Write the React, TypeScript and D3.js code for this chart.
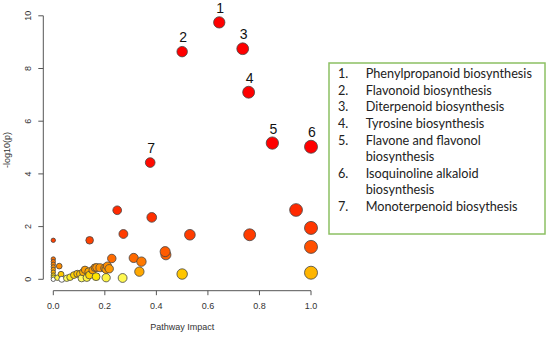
import React from 'react';
import { scaleLinear, scaleSqrt } from 'd3';

// pathway impact (x) and -log10(p) (y)
const impact = [
  0.0, 0.0, 0.0, 0.0, 0.0, 0.0, 0.0, 0.0, 0.0, 0.0,
  0.016, 0.023, 0.03, 0.033, 0.052, 0.065, 0.08, 0.093, 0.104, 0.11,
  0.116, 0.123, 0.13, 0.137, 0.14, 0.153, 0.162, 0.166, 0.168, 0.181,
  0.2, 0.205, 0.205, 0.21, 0.217, 0.227, 0.269, 0.312, 0.334, 0.342,
  0.141, 0.248, 0.272, 0.382, 0.437, 0.434, 0.5, 0.53, 0.762,
  0.942, 1.0, 1.0, 1.0,
  0.376, 0.85, 1.0, 0.758, 0.5, 0.735, 0.644,
];
const logp = [
  1.48, 0.77, 0.67, 0.57, 0.47, 0.37, 0.27, 0.16, 0.08, 0.0,
  0.06, 0.5, 0.19, 0.0, 0.04, 0.08, 0.16, 0.21, 0.2, 0.04,
  0.27, 0.36, 0.06, 0.29, 0.16, 0.35, 0.44, 0.1, 0.45, 0.44,
  0.42, 0.06, 0.38, 0.5, 0.4, 0.79, 0.05, 0.81, 0.29, 0.67,
  1.48, 2.62, 1.72, 2.35, 0.93, 1.05, 0.2, 1.69, 1.69,
  2.63, 1.95, 1.23, 0.25,
  4.43, 5.17, 5.03, 7.1, 8.64, 8.75, 9.75,
];
// numbered pathways: index into the arrays above
const labelIdx = [59, 57, 58, 56, 54, 55, 53];
const labelNum = ['1', '2', '3', '4', '5', '6', '7'];

const xTicks = [0, 0.2, 0.4, 0.6, 0.8, 1.0];
const yTicks = [0, 2, 4, 6, 8, 10];

const legendItems = [
  ['1.', 'Phenylpropanoid biosynthesis'],
  ['2.', 'Flavonoid biosynthesis'],
  ['3.', 'Diterpenoid biosynthesis'],
  ['4.', 'Tyrosine biosynthesis'],
  ['5.', 'Flavone and flavonol'],
  ['', 'biosynthesis'],
  ['6.', 'Isoquinoline alkaloid'],
  ['', 'biosynthesis'],
  ['7.', 'Monoterpenoid biosythesis'],
];

export default function App() {
  const x = scaleLinear().domain([0, 1]).range([53.3, 311]);
  const y = scaleLinear().domain([0, 10]).range([279.3, 15.8]);
  const r = scaleSqrt().domain([0, 1]).range([2.2, 6.5]);
  const color = scaleLinear<string>()
    .domain([0, 0.03, 0.1, 0.3, 0.8, 1.5, 3, 5])
    .range(['#ffffff', '#ffff70', '#ffe600', '#ffa500', '#ff6a00', '#ff4000', '#ff2200', '#ff0000']);

  const axisCol = '#555';
  const font = 'Liberation Sans, Arial, sans-serif';
  const xAxisY = 290.7;
  const yAxisX = 43.3;

  return (
    <svg width={550} height={338} style={{ position: 'absolute', left: 0, top: 0, background: '#fff' }}>
      {/* y axis */}
      <line x1={yAxisX} x2={yAxisX} y1={y(0)} y2={y(10)} stroke={axisCol} />
      {yTicks.map(t => (
        <g key={'y' + t}>
          <line x1={yAxisX - 5} x2={yAxisX} y1={y(t)} y2={y(t)} stroke={axisCol} />
          <text transform={`translate(29,${y(t)}) rotate(-90)`} textAnchor="middle" dominantBaseline="middle"
            fontSize={9} fontFamily={font} fill="#333">{t}</text>
        </g>
      ))}
      <text transform="translate(8,150) rotate(-90)" textAnchor="middle" dominantBaseline="middle"
        fontSize={9} fontFamily={font} fill="#333">-log10(p)</text>

      {/* x axis */}
      <line x1={x(0)} x2={x(1)} y1={xAxisY} y2={xAxisY} stroke={axisCol} />
      {xTicks.map(t => (
        <g key={'x' + t}>
          <line x1={x(t)} x2={x(t)} y1={xAxisY} y2={xAxisY + 4.5} stroke={axisCol} />
          <text x={x(t)} y={306.7} textAnchor="middle" dominantBaseline="middle"
            fontSize={9} fontFamily={font} fill="#333">{t.toFixed(1)}</text>
        </g>
      ))}
      <text x={x(0.5)} y={327.7} textAnchor="middle" dominantBaseline="middle"
        fontSize={9} fontFamily={font} fill="#333">Pathway Impact</text>

      {/* points */}
      {impact.map((d, i) => (
        <circle key={i} cx={x(d)} cy={y(logp[i])} r={r(d)} fill={color(logp[i])}
          stroke="#444" strokeWidth={0.8} />
      ))}
      {labelIdx.map((idx, i) => (
        <text key={'l' + i} x={x(impact[idx]) + 1} y={y(logp[idx]) - 13} textAnchor="middle"
          dominantBaseline="middle" fontSize={14} fontFamily={font} fill="#111">{labelNum[i]}</text>
      ))}

      {/* legend box */}
      <rect x={329} y={63} width={216} height={171} fill="#fff" stroke="#8cc063" strokeWidth={1.5} />
      {legendItems.map((it, i) => (
        <g key={'lg' + i}>
          <text x={338} y={75 + i * 16.6} dominantBaseline="middle" fontSize={12.7} fontFamily="Lato, sans-serif" fill="#222">{it[0]}</text>
          <text x={365.7} y={75 + i * 16.6} dominantBaseline="middle" fontSize={12.7} fontFamily="Lato, sans-serif" fill="#222">{it[1]}</text>
        </g>
      ))}
    </svg>
  );
}
